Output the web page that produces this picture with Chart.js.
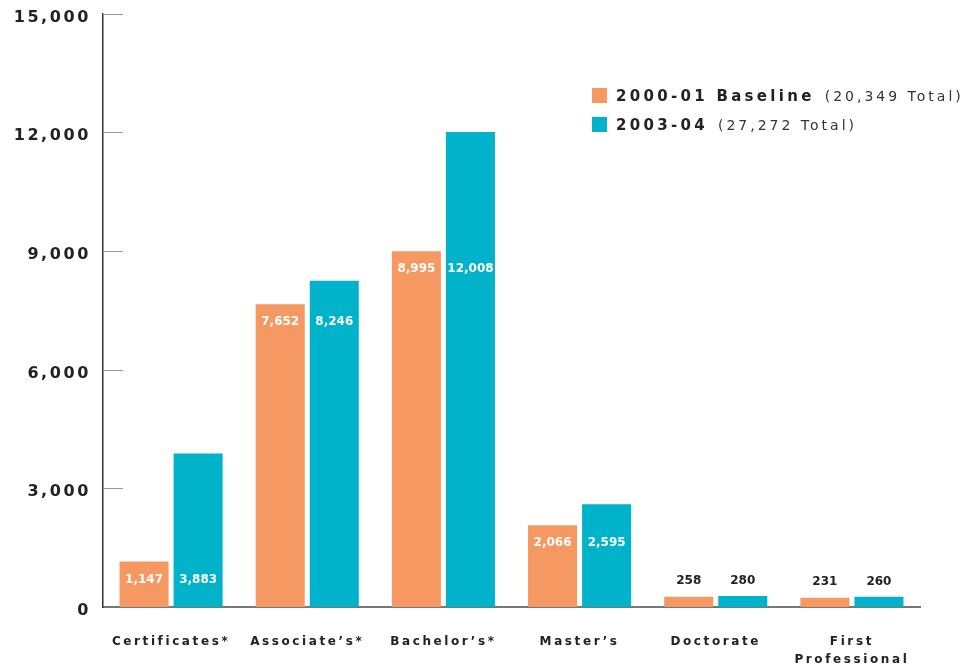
<!DOCTYPE html>
<html>
<head>
<meta charset="utf-8">
<script src="https://cdn.jsdelivr.net/npm/chart.js@4/dist/chart.umd.min.js"></script>
<style>
  html, body { margin: 0; padding: 0; background: #fff; }
  #wrap { position: relative; width: 979px; height: 667px; }
  #legend { position: absolute; left: 592px; top: 81px; font-family: "DejaVu Sans", sans-serif; color: #222; }
  .row { height: 29px; display: flex; align-items: center; white-space: nowrap; }
  .sw { width: 15px; height: 15px; margin-right: 9px; }
  .name { font-weight: bold; font-size: 15px; letter-spacing: 3.3px; }
  .tot { font-size: 14px; letter-spacing: 3px; color: #333; margin-left: 10px; }
</style>
</head>
<body>
<div id="wrap">
  <canvas id="grafico" width="979" height="667"></canvas>
  <div id="legend"></div>
</div>
<script>
// Categorías y series
const categorias = ['Certificates*', 'Associate\u2019s*', 'Bachelor\u2019s*', 'Master\u2019s', 'Doctorate', ['First', 'Professional']];
const nombresSeries = ['2000-01 Baseline', '2003-04'];
const base2000 = [1147, 7652, 8995, 2066, 258, 231];
const anio2003 = [3883, 8246, 12008, 2595, 280, 260];
const colores = ['#F69861', '#00B3CB'];
const ticksY = [0, 3000, 6000, 9000, 12000, 15000];

const fmt = v => v.toLocaleString('en-US');

// Leyenda con totales
const series = [base2000, anio2003];
const legend = document.getElementById('legend');
nombresSeries.forEach((n, i) => {
    const total = series[i].reduce((a, b) => a + b, 0);
    const row = document.createElement('div');
    row.className = 'row';
    row.innerHTML = `<div class="sw" style="background:${colores[i]}"></div>` +
        `<span class="name">${n}</span><span class="tot">(${fmt(total)} Total)</span>`;
    legend.appendChild(row);
});

// Espaciado de letras para los ejes
const espaciado = {
    id: 'espaciado',
    beforeDraw(chart) { chart.ctx.letterSpacing = '2.6px'; },
    beforeDatasetsDraw(chart) { chart.ctx.letterSpacing = '0px'; }
};

// Marcas cortas hacia dentro del eje Y
const marcasY = {
    id: 'marcasY',
    beforeDatasetsDraw(chart) {
        const y = chart.scales.y;
        const ctx = chart.ctx;
        ctx.save();
        ctx.strokeStyle = '#999';
        ctx.lineWidth = 1;
        ticksY.forEach(v => {
            if (v === 0) return;
            const py = Math.round(y.getPixelForValue(v)) + 0.5;
            ctx.beginPath();
            ctx.moveTo(y.right, py);
            ctx.lineTo(y.right + 20, py);
            ctx.stroke();
        });
        ctx.restore();
    }
};

// Valores sobre las barras
const etiquetas = {
    id: 'etiquetas',
    afterDatasetsDraw(chart) {
        const ctx = chart.ctx;
        ctx.save();
        ctx.letterSpacing = '0px';
        ctx.font = 'bold 12px "DejaVu Sans"';
        ctx.textAlign = 'center';
        ctx.textBaseline = 'middle';
        const m0 = chart.getDatasetMeta(0);
        categorias.forEach((c, i) => {
            const ref = m0.data[i];
            const dentro = (ref.base - ref.y) > 40;
            const ty = dentro ? ref.y + 18 : ref.y - 16;
            ctx.fillStyle = dentro ? '#fff' : '#222';
            chart.data.datasets.forEach((ds, d) => {
                const bar = chart.getDatasetMeta(d).data[i];
                ctx.fillText(fmt(ds.data[i]), bar.x, ty);
            });
        });
        ctx.restore();
    }
};

new Chart(document.getElementById('grafico'), {
    type: 'bar',
    data: {
        labels: categorias,
        datasets: [
            { label: nombresSeries[0], data: base2000, backgroundColor: colores[0] },
            { label: nombresSeries[1], data: anio2003, backgroundColor: colores[1] }
        ]
    },
    options: {
        responsive: false,
        animation: false,
        barPercentage: 0.907,
        categoryPercentage: 0.794,
        layout: { padding: { top: 10, right: 59, left: 0, bottom: 0 } },
        plugins: { legend: { display: false }, tooltip: { enabled: false } },
        scales: {
            x: {
                z: 1,
                grid: { display: false },
                border: { display: true, color: '#777', width: 2 },
                ticks: {
                    color: '#222',
                    padding: 18,
                    maxRotation: 0,
                    autoSkip: false,
                    font: { family: 'DejaVu Sans', size: 12, weight: 'bold', lineHeight: 1.5 }
                },
                afterFit(s) { s.height = 60; }
            },
            y: {
                min: 0,
                max: 15000,
                grid: { display: false },
                border: { display: true, color: '#333', width: 1.5 },
                afterBuildTicks(s) { s.ticks = ticksY.map(v => ({ value: v })); },
                ticks: {
                    color: '#222',
                    padding: 4,
                    labelOffset: 4,
                    font: { family: 'DejaVu Sans', size: 16, weight: 'bold' },
                    callback: v => fmt(v)
                },
                afterFit(s) { s.width = 103; }
            }
        }
    },
    plugins: [espaciado, marcasY, etiquetas]
});
</script>
</body>
</html>
